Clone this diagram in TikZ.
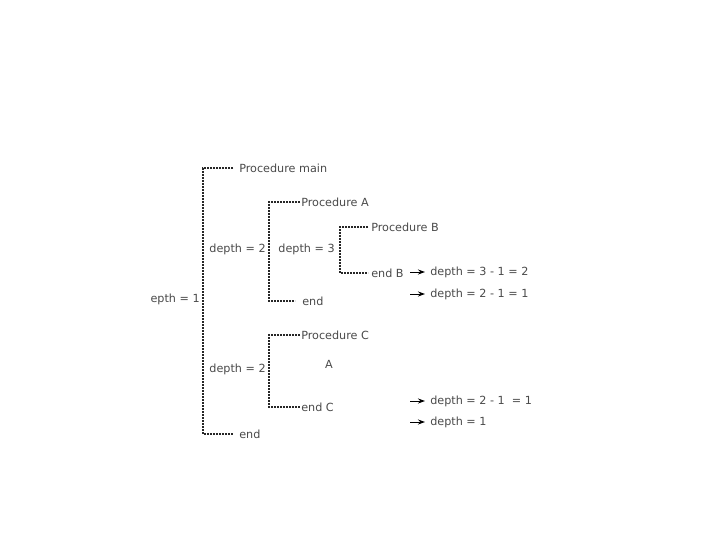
\documentclass[tikz,border=0pt]{standalone}
\usepackage{fontspec}
\setmainfont{DejaVu Sans}
\usetikzlibrary{positioning}
\usetikzlibrary{arrows.meta}
\definecolor{txtgray}{HTML}{4A4A4A}
\tikzset{
t/.style={
  inner sep=1pt,
  anchor=west,
  text=txtgray,
  font=\fontsize{11.2}{13}\selectfont
  },
br/.style={
  draw=black!85,
  line width=1.4pt,
  dash pattern=on 1.8pt off 1.2pt
  }
}

\begin{document}
\begin{tikzpicture}[x=1pt,y=-1pt,>={Stealth[length=7pt,width=5pt]},semithick]
    \useasboundingbox (0,0) rectangle (720,540);
    \fill[white] (0,0) rectangle (720,540);
    % outer level
    \begin{scope}
      \clip (150,0) rectangle (720,540);
      \node[t,anchor=east] (dmain) at (201,299) {depth = 1};
    \end{scope}
    \node[t,inner xsep=6pt] (pmain)   at (233,168) {Procedure main};
    \node[t,inner xsep=6pt] (endmain) at (233,434) {end};
    % procedure A
    \node[t] (pa)   at (300,202) {Procedure A};
    \node[t,inner xsep=7pt] (enda) at (295,301) {end};
    \node[t,anchor=east] (da) at (267,249) {depth = 2};
    % procedure B
    \node[t,inner xsep=3pt] (pb)   at (368,227) {Procedure B};
    \node[t,inner xsep=3pt] (endb) at (368,273) {end B};
    \node[t,anchor=east] (db) at (336,249) {depth = 3};
    % procedure C
    \node[t] (pc)   at (300,335) {Procedure C};
    \node[t] (endc) at (300,407) {end C};
    \node[t,anchor=center] (ca) at (329,364) {A};
    \node[t,anchor=east] (dc) at (267,369) {depth = 2};
    % results
    \node[t,inner xsep=5pt] (r1) at (425,272) {depth = 3 - 1 = 2};
    \node[t,inner xsep=5pt] (r2) at (425,294) {depth = 2 - 1 = 1};
    \node[t,inner xsep=5pt] (r3) at (425,401) {depth = 2 - 1 \ = 1};
    \node[t,inner xsep=5pt] (r4) at (425,422) {depth = 1};
    \coordinate (a1) at (410,272);
    \coordinate (a2) at (410,294);
    \coordinate (a3) at (410,401);
    \coordinate (a4) at (410,422);
    % brackets
    \draw[br] (pmain.west) -- ++(-30,0) |- (endmain.west);
    \draw[br] (pa.west) -- ++(-31,0) |- (enda.west);
    \draw[br] (pb.west) -- ++(-28,0) |- (endb.west);
    \draw[br] (pc.west) -- ++(-31,0) |- (endc.west);
    % arrows
    \foreach \i in {1,...,4}
      \draw[->,line width=1pt] (a\i) -- (r\i.west);
\end{tikzpicture}
\end{document}
